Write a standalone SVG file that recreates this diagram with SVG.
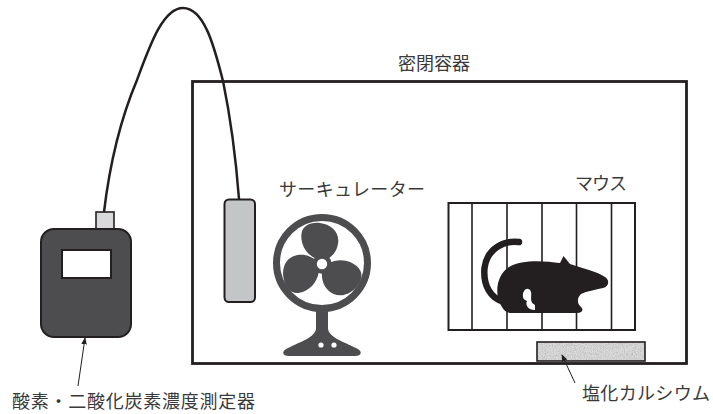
<svg xmlns="http://www.w3.org/2000/svg" width="713" height="414" viewBox="0 0 713 414">
  <defs>
    <style>
      .ink { stroke: #231f20; }
      .label { font-family: "Noto Sans CJK JP", "Noto Sans", sans-serif; font-size: 18px; fill: #3a3a3a; }
      .fan { fill: #4d4d4f; }
      .bar { stroke: #231f20; stroke-width: 1.6; }
      .lead { stroke: #231f20; stroke-width: 1; fill: none; }
    </style>
    <marker id="tip" viewBox="0 0 10 10" refX="9" refY="5" markerWidth="7" markerHeight="7" orient="auto" markerUnits="userSpaceOnUse">
      <path d="M0,1 L10,5 L0,9 Z" fill="#231f20"/>
    </marker>
    <filter id="grain" x="0" y="0" width="1" height="1">
      <feTurbulence type="fractalNoise" baseFrequency="1.1" numOctaves="2" seed="4" result="n"/>
      <feColorMatrix in="n" type="matrix" values="0 0 0 0 0.45  0 0 0 0 0.45  0 0 0 0 0.45  1.6 0 0 0 -0.55"/>
      <feComposite in2="SourceGraphic" operator="in"/>
    </filter>
    <path id="blade" d="M5,-6 C10,-16 20,-20 28,-19 C36,-18 39,-10 38,-2 C37,8 30,16 20,15 C12,14 8,10 5,6 Z"/>
  </defs>

  <rect width="713" height="414" fill="#ffffff"/>

  <!-- sealed chamber -->
  <g id="chamber">
    <rect x="192.5" y="81.5" width="494" height="282" fill="none" class="ink" stroke-width="2.8"/>
    <text class="label" x="398" y="69.5" textLength="72" lengthAdjust="spacing">密閉容器</text>
  </g>

  <!-- gas meter -->
  <g id="meter">
    <rect x="96" y="212" width="18" height="17" fill="#d9d9db" class="ink" stroke-width="1.6"/>
    <rect x="41" y="229" width="90" height="108" rx="13" fill="#4d4d4f" class="ink" stroke-width="2"/>
    <rect x="62" y="250" width="49" height="28" fill="#ffffff" class="ink" stroke-width="2"/>
    <text class="label" x="12" y="408" textLength="243" lengthAdjust="spacing">酸素・二酸化炭素濃度測定器</text>
  </g>

  <!-- sensor probe -->
  <g id="probe">
    <rect x="224.5" y="199.5" width="30.5" height="102.5" rx="4.5" fill="#c4c5c7" class="ink" stroke-width="2"/>
  </g>

  <!-- circulator fan -->
  <g id="circulator">
    <circle cx="322" cy="263" r="45.5" fill="none" stroke="#4d4d4f" stroke-width="7"/>
    <g transform="translate(322 264) scale(1.08)" class="fan">
      <use href="#blade" transform="rotate(-90)"/>
      <use href="#blade" transform="rotate(40)"/>
      <use href="#blade" transform="rotate(162)"/>
      <circle r="9"/>
      <circle r="4.8" fill="#ffffff"/>
    </g>
    <rect x="316" y="308" width="12" height="24" class="fan"/>
    <path class="fan" d="M316,328 C316,337 300,342 288,348 C281,351 282,356 289,356 L355,356 C362,356 363,351 356,348 C344,342 328,337 328,328 Z"/>
    <circle cx="321" cy="345" r="2.6" fill="#ffffff"/>
    <circle cx="334" cy="345" r="2.6" fill="#ffffff"/>
    <text class="label" x="279" y="196" textLength="146" lengthAdjust="spacing">サーキュレーター</text>
  </g>

  <!-- mouse in cage -->
  <g id="cage">
    <path d="M519,242 C505,240 487,248 484.5,268 C483,285 490,298 504,302" fill="none" stroke="#231f20" stroke-width="6.5" stroke-linecap="round"/>
    <path fill="#231f20" d="M502,307 C494,296 496,275 509,267 C522,259 545,261 560,263 L563.5,256 L570,264 C585,269 598,272 605,277 C610,280 609,287 603,288 C595,290 587,291 581,294 C577,298 577,303 580,306 C584,309 583,313 577,313 L512,313 C507,313 504,311 502,307 Z"/>
    <path fill="#ffffff" d="M523,297 C522,289 529,286 531,292 C532,297 529,302 535,305 L535,310 C528,310 525,305 527,301 C525,300 523,299 523,297 Z"/>
    <rect x="448.5" y="203" width="186.5" height="127" fill="none" class="ink" stroke-width="2"/>
    <line class="bar" x1="472" y1="203" x2="472" y2="330"/>
    <line class="bar" x1="507" y1="203" x2="507" y2="330"/>
    <line class="bar" x1="542" y1="203" x2="542" y2="330"/>
    <line class="bar" x1="576.5" y1="203" x2="576.5" y2="330"/>
    <line class="bar" x1="611.5" y1="203" x2="611.5" y2="330"/>
    <text class="label" x="575" y="190" textLength="52" lengthAdjust="spacing">マウス</text>
  </g>

  <!-- calcium chloride tray -->
  <g id="desiccant">
    <rect x="537" y="342" width="108" height="19" fill="#dcdcdc"/>
    <rect x="537" y="342" width="108" height="19" fill="#dcdcdc" filter="url(#grain)"/>
    <rect x="537" y="342" width="108" height="19" fill="none" class="ink" stroke-width="1.6"/>
    <text class="label" x="582" y="400" textLength="128" lengthAdjust="spacing">塩化カルシウム</text>
  </g>

  <!-- cable and leader lines -->
  <g id="connectors">
    <path d="M104,212 C109,170 118,125 137,80 C150,45 163,8 183,8 C205,8 215,50 223,81 C230,115 236,160 239,199" fill="none" stroke="#231f20" stroke-width="2.5"/>
    <line class="lead" x1="78" y1="386" x2="85" y2="338" marker-end="url(#tip)"/>
    <line class="lead" x1="575" y1="383" x2="562" y2="355" marker-end="url(#tip)"/>
  </g>
</svg>
